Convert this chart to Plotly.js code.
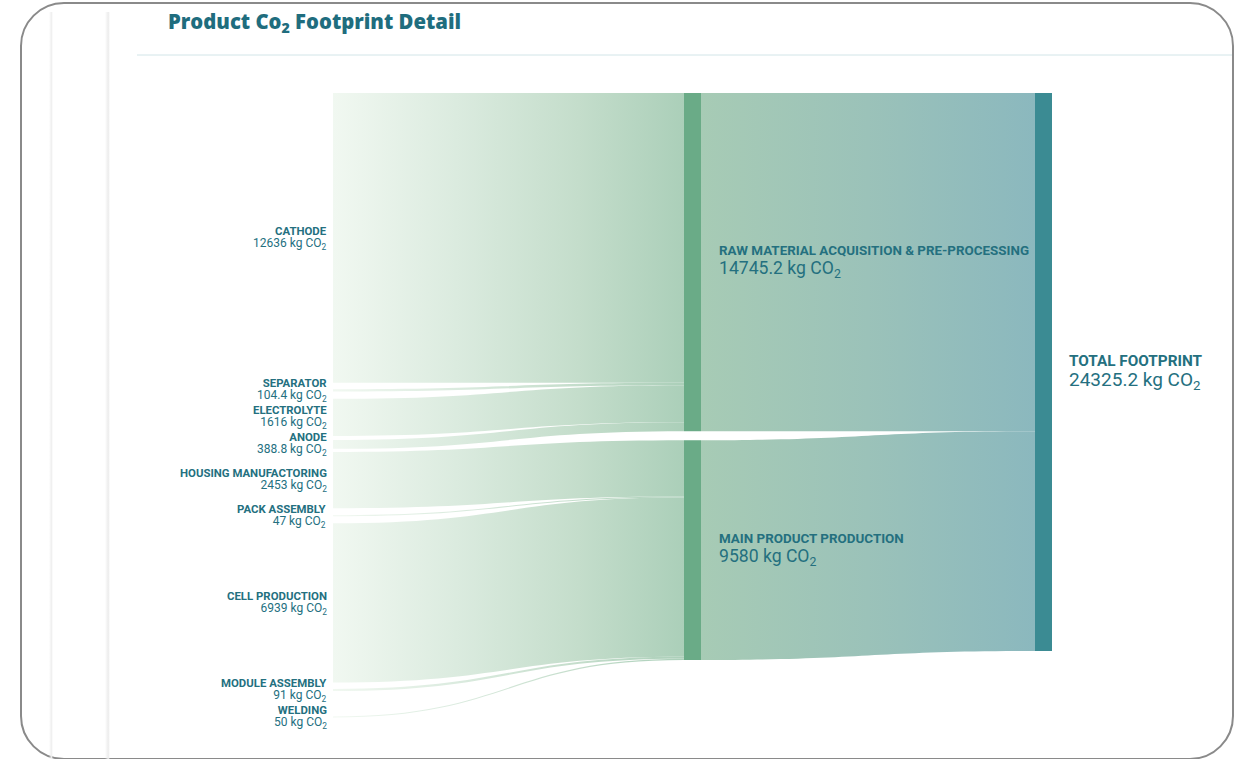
<!DOCTYPE html>
<html>
<head>
<meta charset="utf-8">
<script src="https://cdn.plot.ly/plotly-3.0.1.min.js"></script>
<style>
  html, body { margin:0; padding:0; background:#ffffff; width:1245px; height:759px; overflow:hidden; }
  #card { position:absolute; left:20px; top:2px; width:1214px; height:758px; box-sizing:border-box;
          border:2px solid #8a8a8a; border-radius:44px; background:#ffffff; }
  .shade { position:absolute; top:12px; bottom:0; }
  #shade1 { left:49px; width:4px; background:linear-gradient(to right, rgba(238,238,238,0), #efefef 60%, rgba(238,238,238,0)); }
  #shade2 { left:105px; width:5px; background:linear-gradient(to right, rgba(236,236,236,0), #ececec 65%, rgba(236,236,236,0)); }
  #chart { position:absolute; left:0; top:0; width:1245px; height:759px; }
</style>
</head>
<body>
<div id="card"></div>
<div id="shade1" class="shade"></div>
<div id="shade2" class="shade"></div>
<div id="chart"></div>
<script>
// ---------------- data ----------------
const sourceNames  = ['CATHODE','SEPARATOR','ELECTROLYTE','ANODE','HOUSING MANUFACTORING','PACK ASSEMBLY','CELL PRODUCTION','MODULE ASSEMBLY','WELDING'];
const sourceValues = [12636, 104.4, 1616, 388.8, 2453, 47, 6939, 91, 50];
const sourceStage  = [0, 0, 0, 0, 1, 1, 1, 1, 1];
const stageNames   = ['RAW MATERIAL ACQUISITION & PRE-PROCESSING', 'MAIN PRODUCT PRODUCTION'];
const totalName    = 'TOTAL FOOTPRINT';
const unitLabel    = 'kg CO<sub>2</sub>';
const titleText    = 'Product Co<sub>2</sub> Footprint Detail';

// ---------------- derived values ----------------
const stageValues = stageNames.map((_, k) => sourceValues.reduce((a, v, i) => a + (sourceStage[i] === k ? v : 0), 0));
const totalValue  = stageValues.reduce((a, b) => a + b, 0);
const fmt = v => String(Math.round(v * 10) / 10);

// ---------------- geometry (px) ----------------
const W = 1245, H = 759;
const box = { l: 316, r: 1052, t: 93, b: 723 };
const thick = 17, pad = 9, minSlot = 12, minSep = 27;
const bw = box.r - box.l, bh = box.b - box.t;
const n = sourceValues.length;
const ky = (bh - (n - 1) * pad) / totalValue;          // same scale the sankey layout uses
const slots = sourceValues.map(v => Math.max(v * ky, minSlot));

function layoutLeft(g) {
  let prevEnd = -g, prevC = -Infinity;
  const cs = slots.map(s => {
    let c = prevEnd + g + s / 2;
    c = Math.max(c, prevC + minSep);
    prevEnd = c + s / 2; prevC = c;
    return c;
  });
  return { cs: cs, end: prevEnd };
}
let lo = 0, hi = 30;
for (let it = 0; it < 60; it++) { const mid = (lo + hi) / 2; if (layoutLeft(mid).end > bh) hi = mid; else lo = mid; }
const srcCenters = layoutLeft(lo).cs;

let acc = 0;
const stageCenters = stageValues.map(v => { const h = v * ky; const c = acc + h / 2; acc += h + pad; return c; });
const totalCenter = totalValue * ky / 2;
const colX = [thick / 2 / bw, (692.5 - box.l) / bw, 1 - thick / 2 / bw];

const totalIdx = n + stageNames.length;
const nodeX = [...sourceNames.map(() => colX[0]), ...stageNames.map(() => colX[1]), colX[2]];
const nodeY = [...srcCenters, ...stageCenters, totalCenter].map(c => c / bh);
const nodeColors = [...sourceNames.map(() => 'rgba(0,0,0,0)'), ...stageNames.map(() => '#6aab87'), '#3b8b93'];

const linkSource = [], linkTarget = [], linkValue = [], linkColor = [];
sourceValues.forEach((v, i) => { linkSource.push(i); linkTarget.push(n + sourceStage[i]); linkValue.push(v); linkColor.push('#c6decc'); });
stageValues.forEach((v, k) => { linkSource.push(n + k); linkTarget.push(totalIdx); linkValue.push(v); linkColor.push('#9bc2ba'); });

const trace = {
  type: 'sankey',
  arrangement: 'fixed',
  domain: { x: [box.l / W, box.r / W], y: [1 - box.b / H, 1 - box.t / H] },
  hoverinfo: 'skip',
  node: {
    label: [...sourceNames, ...stageNames, totalName].map(() => ''),
    customdata: [...sourceNames, ...stageNames, totalName],
    x: nodeX, y: nodeY,
    thickness: thick, pad: pad,
    color: nodeColors,
    line: { width: 0, color: 'rgba(0,0,0,0)' },
    hoverinfo: 'skip'
  },
  link: {
    source: linkSource, target: linkTarget, value: linkValue,
    color: linkColor, line: { width: 0 }, hoverinfo: 'skip'
  }
};

const textColor = '#24707f';
const annotations = [];
sourceNames.forEach((name, i) => {
  annotations.push({
    xref: 'paper', yref: 'paper', x: (box.l + thick - 6) / W, y: 1 - (box.t + srcCenters[i]) / H,
    xanchor: 'right', yanchor: 'middle', align: 'right', showarrow: false,
    borderpad: 0, borderwidth: 0,
    font: { family: 'Roboto', size: 9.5, color: textColor },
    text: '<span style="font-size:11.4px"><b>' + name + '</b></span><br><span style="font-size:12px">' + fmt(sourceValues[i]) + ' ' + unitLabel + '</span>'
  });
});
stageNames.forEach((name, k) => {
  annotations.push({
    xref: 'paper', yref: 'paper', x: 719 / W, y: 1 - (box.t + stageCenters[k]) / H,
    xanchor: 'left', yanchor: 'middle', align: 'left', showarrow: false,
    borderpad: 0, borderwidth: 0,
    font: { family: 'Roboto', size: 14.5, color: textColor },
    text: '<span style="font-size:13.4px"><b>' + name + '</b></span><br><span style="font-size:17.6px">' + fmt(stageValues[k]) + ' ' + unitLabel + '</span>'
  });
});
annotations.push({
  xref: 'paper', yref: 'paper', x: 1069 / W, y: 1 - (box.t + totalCenter) / H,
  xanchor: 'left', yanchor: 'middle', align: 'left', showarrow: false,
  borderpad: 0, borderwidth: 0,
  font: { family: 'Roboto', size: 15.5, color: textColor },
  text: '<span style="font-size:15.3px"><b>' + totalName + '</b></span><br><span style="font-size:19px">' + fmt(totalValue) + ' ' + unitLabel + '</span>'
});

const layout = {
  width: W, height: H,
  margin: { l: 0, r: 0, t: 0, b: 0 },
  paper_bgcolor: 'rgba(0,0,0,0)',
  plot_bgcolor: 'rgba(0,0,0,0)',
  font: { family: 'Roboto', color: textColor },
  title: {
    text: titleText, xref: 'container', yref: 'container',
    x: 168 / W, xanchor: 'left', y: 1 - 22 / H, yanchor: 'middle',
    font: { family: 'Open Sans', size: 20.3, color: '#1f6d7e', weight: 800 }
  },
  shapes: [{
    type: 'line', xref: 'paper', yref: 'paper',
    x0: 137 / W, x1: 1232 / W, y0: 1 - 55 / H, y1: 1 - 55 / H,
    line: { color: '#d2e5e8', width: 1 }
  }],
  annotations: annotations
};

function applyGradients(gd) {
  const NS = 'http://www.w3.org/2000/svg';
  const svg = gd.querySelector('svg.main-svg');
  if (!svg) return;
  let defs = svg.querySelector('defs');
  if (!defs) { defs = document.createElementNS(NS, 'defs'); svg.insertBefore(defs, svg.firstChild); }
  function mk(id, stops) {
    const g = document.createElementNS(NS, 'linearGradient');
    g.setAttribute('id', id);
    g.setAttribute('x1', '0'); g.setAttribute('x2', '1'); g.setAttribute('y1', '0'); g.setAttribute('y2', '0');
    stops.forEach(s => {
      const st = document.createElementNS(NS, 'stop');
      st.setAttribute('offset', s[0]); st.setAttribute('stop-color', s[1]);
      g.appendChild(st);
    });
    defs.appendChild(g);
  }
  mk('gradIn',  [[0, '#f1f8f1'], [0.35, '#dbebdf'], [0.7, '#c4ddcb'], [1, '#abcfb9']]);
  mk('gradOut', [[0, '#a7cbb5'], [0.5, '#9bc2b9'], [1, '#8bb8be']]);
  gd.querySelectorAll('path.sankey-link').forEach(p => {
    let isIn = true;
    const d = p.__data__;
    if (d && d.link && d.link.source && typeof d.link.source.pointNumber === 'number') {
      isIn = d.link.source.pointNumber < n;
    } else {
      isIn = p.getBBox().x < 600;
    }
    p.style.fill = isIn ? 'url(#gradIn)' : 'url(#gradOut)';
    p.style.fillOpacity = 1;
  });
}

const gd = document.getElementById('chart');
Plotly.newPlot(gd, [trace], layout, { displayModeBar: false, staticPlot: true }).then(() => applyGradients(gd));
</script>
</body>
</html>
